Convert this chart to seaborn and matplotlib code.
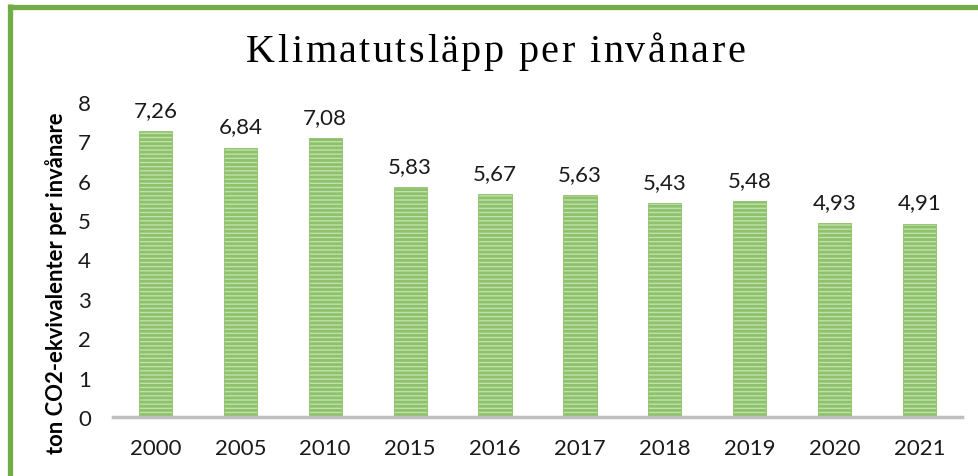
import matplotlib
matplotlib.use("Agg")
import matplotlib.pyplot as plt
import seaborn as sns
import pandas as pd
from matplotlib.lines import Line2D

years = ["2000", "2005", "2010", "2015", "2016", "2017", "2018", "2019", "2020", "2021"]
values = [7.26, 6.84, 7.08, 5.83, 5.67, 5.63, 5.43, 5.48, 4.93, 4.91]
yticks = [0, 1, 2, 3, 4, 5, 6, 7, 8]
title = "Klimatutsläpp per invånare"
ylabel = "ton CO2-ekvivalenter per invånare"

sns.set_theme(style="white")
plt.rcParams["font.family"] = ["Lato", "DejaVu Sans"]
plt.rcParams["hatch.linewidth"] = 2.0
plt.rcParams["hatch.color"] = "#70AD47"

df = pd.DataFrame({"year": years, "value": values})

W, H = 979, 477
fig = plt.figure(figsize=(W / 100, H / 100), dpi=100)
ax = fig.add_axes([113 / W, 1 - 418 / H, (962 - 113) / W, (418 - 103) / H])

sns.barplot(data=df, x="year", y="value", ax=ax, color="#C2E0AD", width=0.39,
            saturation=1, edgecolor="#8DC26B", linewidth=0.6)
for p in ax.patches:
    p.set_hatch("----")

for i, v in enumerate(values):
    ax.annotate(f"{v:.2f}".replace(".", ","), (i, v), xytext=(0, 8),
                textcoords="offset points", ha="center", va="bottom",
                fontsize=16, color="#1a1a1a")

ax.set_xlim(-0.5, len(years) - 0.5)
ax.set_ylim(0, 8)
ax.set_yticks(yticks)
ax.set_yticklabels([str(t) for t in yticks])
ax.tick_params(axis="both", length=0, labelsize=16, labelcolor="#1a1a1a")
ax.tick_params(axis="x", pad=15)
ax.tick_params(axis="y", pad=16)
ax.set_xlabel("")
ax.set_ylabel(ylabel, fontsize=15.8, fontweight="bold", color="#000000")
ax.yaxis.set_label_coords((67 - 113) / (962 - 113), (418 - 283) / (418 - 103))

for s in ["top", "right", "left"]:
    ax.spines[s].set_visible(False)
ax.spines["bottom"].set_color("#BFBFBF")
ax.spines["bottom"].set_linewidth(2.5)

# letter-spaced title, placed character by character
renderer = fig.canvas.get_renderer()
tfont = dict(fontsize=29, family=["Liberation Serif", "DejaVu Serif"], color="#000000")
chars = [fig.text(0, 1 - 62 / H, c, ha="left", va="baseline", **tfont) for c in title]
widths = []
for t in chars:
    if t.get_text() == " ":
        t.set_text("a")
        widths.append(t.get_window_extent(renderer).width * 0.55)
        t.set_text(" ")
    else:
        widths.append(t.get_window_extent(renderer).width)
target_left, target_right = 246, 745
gap = (target_right - target_left - sum(widths)) / (len(chars) - 1)
x = target_left
for t, w in zip(chars, widths):
    t.set_x(x / W)
    x += w + gap

# green frame lines (top and left)
fig.add_artist(Line2D([8 / W, 1], [1 - 7.5 / H, 1 - 7.5 / H],
                      transform=fig.transFigure, color="#70AD47", linewidth=3.8,
                      solid_capstyle="butt"))
fig.add_artist(Line2D([10 / W, 10 / W], [0, 1 - 5 / H],
                      transform=fig.transFigure, color="#70AD47", linewidth=3.8,
                      solid_capstyle="butt"))

fig.savefig("out.png", dpi=100)
